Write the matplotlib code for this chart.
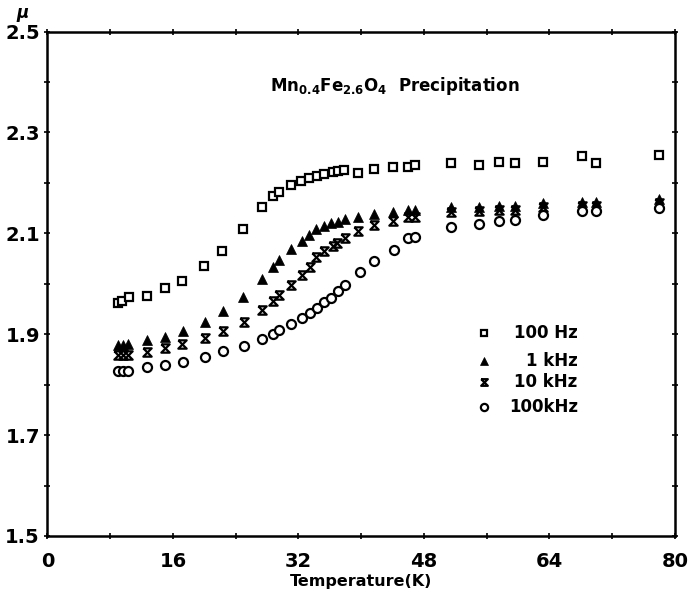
import matplotlib
matplotlib.use("Agg")
import matplotlib.pyplot as plt
import numpy as np
from matplotlib.path import Path
from matplotlib.ticker import FixedLocator, MultipleLocator

# permeability vs temperature, four measuring frequencies
t_100hz = [9.0, 9.5, 10.4, 12.7, 15.0, 17.2, 20.0, 22.3, 24.9, 27.3, 28.7, 29.5, 31.0, 32.3, 33.4,
           34.3, 35.3, 36.4, 37.0, 37.8, 39.6, 41.6, 44.1, 46.0, 46.9, 51.4, 55.0, 57.6, 59.6,
           63.2, 68.2, 69.9, 77.9]
mu_100hz = [1.962, 1.966, 1.974, 1.976, 1.991, 2.006, 2.036, 2.064, 2.108, 2.153, 2.174, 2.182,
            2.195, 2.204, 2.210, 2.214, 2.217, 2.222, 2.224, 2.225, 2.219, 2.228, 2.231, 2.232,
            2.235, 2.239, 2.235, 2.241, 2.240, 2.242, 2.253, 2.240, 2.256]

t_1khz = [9.0, 9.6, 10.3, 12.7, 15.0, 17.3, 20.1, 22.4, 24.9, 27.3, 28.8, 29.5, 31.0, 32.4, 33.4,
          34.2, 35.3, 36.2, 37.0, 37.9, 39.6, 41.6, 44.1, 46.0, 46.9, 51.4, 55.0, 57.6, 59.6,
          63.2, 68.2, 69.9, 77.9]
mu_1khz = [1.878, 1.879, 1.880, 1.889, 1.895, 1.907, 1.924, 1.945, 1.973, 2.009, 2.033, 2.048,
           2.069, 2.084, 2.097, 2.108, 2.115, 2.120, 2.122, 2.128, 2.133, 2.138, 2.142, 2.146,
           2.146, 2.152, 2.153, 2.155, 2.155, 2.160, 2.163, 2.163, 2.168]

t_10khz = [9.0, 9.6, 10.3, 12.7, 15.0, 17.2, 20.1, 22.4, 25.0, 27.3, 28.7, 29.5, 31.0, 32.4, 33.5,
           34.2, 35.3, 36.4, 36.9, 37.9, 39.6, 41.6, 44.1, 46.0, 46.9, 51.4, 55.0, 57.6, 59.6,
           63.2, 68.2, 69.9, 77.9]
mu_10khz = [1.858, 1.858, 1.859, 1.864, 1.872, 1.880, 1.892, 1.907, 1.925, 1.948, 1.965, 1.978,
            1.998, 2.018, 2.034, 2.053, 2.064, 2.074, 2.080, 2.090, 2.104, 2.117, 2.125, 2.133,
            2.133, 2.143, 2.145, 2.146, 2.147, 2.152, 2.155, 2.155, 2.160]

t_100khz = [9.0, 9.6, 10.3, 12.7, 15.0, 17.3, 20.1, 22.4, 25.0, 27.3, 28.8, 29.5, 31.1, 32.4, 33.5,
            34.3, 35.3, 36.2, 37.0, 37.9, 39.8, 41.6, 44.2, 46.0, 46.9, 51.4, 55.0, 57.6, 59.6,
            63.2, 68.2, 69.9, 77.9]
mu_100khz = [1.827, 1.827, 1.828, 1.834, 1.839, 1.845, 1.854, 1.866, 1.876, 1.890, 1.900, 1.908,
             1.920, 1.932, 1.943, 1.952, 1.963, 1.971, 1.986, 1.997, 2.023, 2.046, 2.066, 2.091,
             2.093, 2.112, 2.118, 2.125, 2.127, 2.136, 2.145, 2.145, 2.150]

labels = ["100 Hz", "1 kHz", "10 kHz", "100kHz"]
x_ticks = [0, 16, 32, 48, 64, 80]
y_ticks = [1.5, 1.7, 1.9, 2.1, 2.3, 2.5]

plt.rcParams["font.family"] = "DejaVu Sans"
plt.rcParams["font.weight"] = "bold"
plt.rcParams["mathtext.default"] = "regular"

# hourglass marker (x with bars top and bottom)
hourglass = Path([(-1, 1), (1, 1), (-1, -1), (1, -1), (-1, 1)],
                 [Path.MOVETO, Path.LINETO, Path.LINETO, Path.LINETO, Path.LINETO])

fig = plt.figure(figsize=(6.96, 5.97), dpi=100)
ax = fig.add_axes([0.0682, 0.1022, 0.9016, 0.845])

styles = [
    dict(marker="s", ms=6, mfc="white", mec="black", mew=1.6),
    dict(marker="^", ms=6.5, mfc="black", mec="black", mew=0.5),
    dict(marker=hourglass, ms=6, mfc="none", mec="black", mew=1.6),
    dict(marker="o", ms=6.5, mfc="white", mec="black", mew=1.6),
]
series = [(t_100hz, mu_100hz), (t_1khz, mu_1khz), (t_10khz, mu_10khz), (t_100khz, mu_100khz)]
for (t, mu), st in zip(series, styles):
    ax.plot(t, mu, ls="none", **st)

# key: marker on the left, text right-aligned
key_y = [0.402, 0.347, 0.305, 0.256]
for yk, lab, st in zip(key_y, labels, styles):
    ax.plot([0.696], [yk], transform=ax.transAxes, ls="none", clip_on=False,
            **{**st, "ms": st["ms"] * 0.8})
    ax.text(0.845, yk, lab, transform=ax.transAxes, ha="right", va="center", fontsize=12)

ax.text(0.355, 0.892, r"Mn$_{0.4}$Fe$_{2.6}$O$_4$  Precipitation", transform=ax.transAxes,
        fontsize=12, fontweight="semibold", ha="left", va="center")

ax.set_xlim(0, 80)
ax.set_ylim(1.5, 2.5)
ax.xaxis.set_major_locator(FixedLocator(x_ticks))
ax.xaxis.set_minor_locator(MultipleLocator(8))
ax.yaxis.set_major_locator(FixedLocator(y_ticks))
ax.yaxis.set_minor_locator(MultipleLocator(0.1))
ax.set_xticklabels([f"{v:g}" for v in x_ticks])
ax.set_yticklabels([f"{v:.1f}" for v in y_ticks])
ax.tick_params(which="both", direction="inout", top=True, right=True, length=5, width=1.2,
               labelsize=14, pad=3)
ax.tick_params(axis="x", which="both", pad=9)
for s in ax.spines.values():
    s.set_linewidth(1.8)

ax.set_xlabel("Temperature(K)", fontsize=11.5, fontweight="bold", labelpad=2)
ax.text(-0.04, 1.037, "μ", transform=ax.transAxes, fontsize=12, fontstyle="italic",
        ha="center", va="center")

fig.savefig("out.png", dpi=100)
